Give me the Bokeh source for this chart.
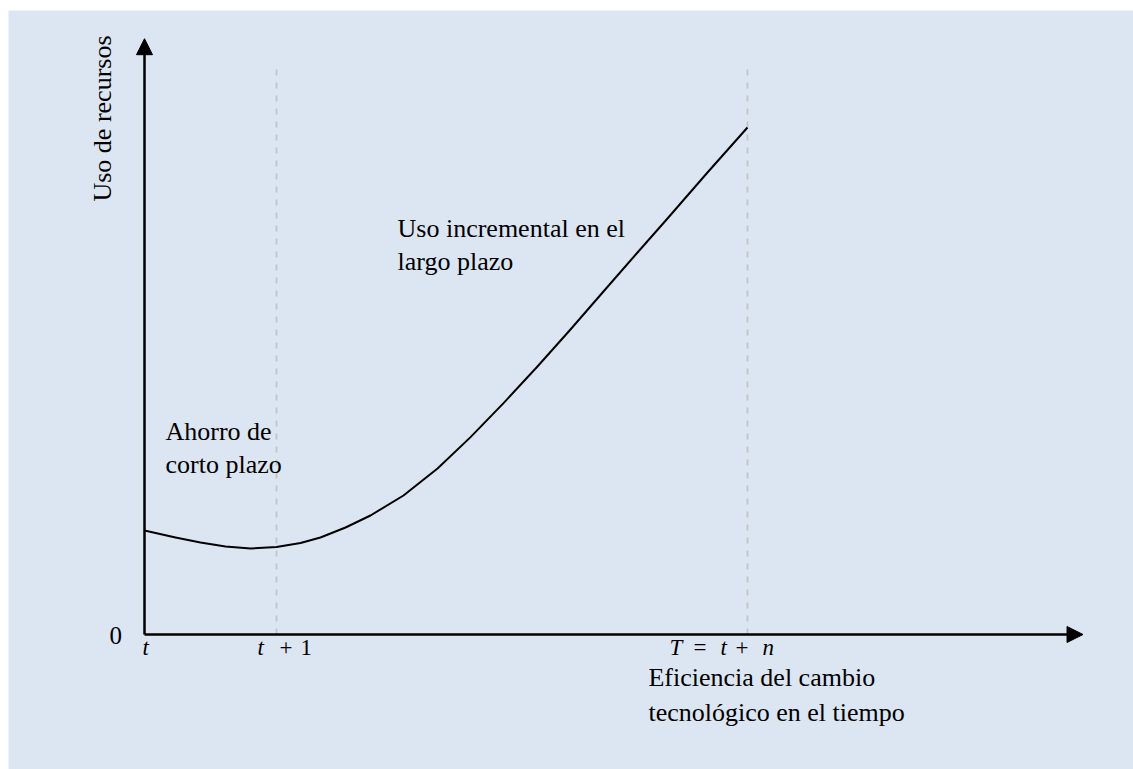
import math
from bokeh.plotting import figure
from bokeh.models import Arrow, NormalHead, Label, Range1d
from bokeh.embed import file_html
from bokeh.resources import INLINE

# ---- data (time units: t = 0, t+1 = 1, T = t+n ~ 4.57; resource use in arbitrary units)
curve_x = [0.0, 0.235, 0.424, 0.614, 0.803, 1.0, 1.182, 1.333, 1.523, 1.712, 1.962,
           2.220, 2.470, 2.720, 2.977, 3.227, 3.477, 3.735, 3.962, 4.265, 4.568]
curve_y = [17.33, 16.17, 15.33, 14.67, 14.33, 14.58, 15.25, 16.17, 17.83, 19.83, 23.17,
           27.67, 32.9, 38.57, 44.67, 50.83, 57.17, 63.67, 69.33, 77.0, 84.5]

tick_positions = [0.0, 1.0, 4.568]
tick_labels = ["t", "t + 1", "T = t + n"]
# pixel offsets of each token of a tick label, relative to its tick
tick_token_offsets = [[-2], [-19, 3, 24], [-78, -54, -27, -12, 15]]
guide_top = 94.5
y_axis_top = 99.3
x_axis_end = 7.11

title_text = "recursos"
y_axis_label = "Uso de recursos"
x_axis_label = ["Eficiencia del cambio", "tecnológico en el tiempo"]
note_short = ["Ahorro de", "corto plazo"]
note_long = ["Uso incremental en el", "largo plazo"]

BG = "#dce6f2"
FONT = "Liberation Serif"
DY = 1.5  # baseline correction for labels

p = figure(width=1133, height=769, output_backend="svg", toolbar_location=None,
           title=None,
           x_range=Range1d(-1.0303, 7.4924), y_range=Range1d(-22.5, 104.0),
           min_border_left=8, min_border_right=0, min_border_bottom=0, min_border_top=10)
p.background_fill_color = BG
p.border_fill_color = "white"
p.outline_line_color = None
p.xaxis.visible = False
p.yaxis.visible = False
p.xgrid.visible = False
p.ygrid.visible = False

# dashed guides at t+1 and T
for xv in tick_positions[1:]:
    p.segment(x0=[xv], y0=[0], x1=[xv], y1=[guide_top], line_color="#c3c3c3",
              line_width=1.8, line_dash="6 7")

# the curve
p.line(curve_x, curve_y, line_color="black", line_width=2, line_join="round")

# axes with arrow heads
p.add_layout(Arrow(end=NormalHead(size=16, fill_color="black", line_color="black"),
                   x_start=0, y_start=0, x_end=0, y_end=y_axis_top,
                   line_color="black", line_width=2.5))
p.add_layout(Arrow(end=NormalHead(size=16, fill_color="black", line_color="black"),
                   x_start=0, y_start=0, x_end=x_axis_end, y_end=0,
                   line_color="black", line_width=2.5))

def lab(x, y, text, size="26px", style="normal", align="left", baseline="alphabetic",
        angle=0.0, x_offset=0):
    p.add_layout(Label(x=x, y=y, text=text, text_font=FONT, text_font_size=size,
                       text_font_style=style, text_align=align, text_baseline=baseline,
                       text_color="black", angle=angle, x_offset=x_offset))

# title (shrunk to fit the narrow white strip above the panel)
lab(3.258, 105.6, title_text, size="10px", align="center", baseline="top")

# origin and tick labels (letters italic, operators/digits upright)
lab(-0.265, -1.67 + DY, "0", size="25px")
for tx, tl, offs in zip(tick_positions, tick_labels, tick_token_offsets):
    for tok, off in zip(tl.split(" "), offs):
        st = "italic" if tok.isalpha() else "normal"
        lab(tx, -3.6 + DY, tok, size="23px", style=st, x_offset=off)

# axis titles
lab(-0.318, 86.0, y_axis_label, align="center", baseline="middle", angle=math.pi / 2)
lab(3.818, -8.67 + DY, x_axis_label[0])
lab(3.818, -14.5 + DY, x_axis_label[1])

# annotations
lab(0.159, 32.3 + DY, note_short[0])
lab(0.159, 26.8 + DY, note_short[1])
lab(1.917, 66.2 + DY, note_long[0])
lab(1.917, 60.7 + DY, note_long[1])

open("out.html", "w").write(file_html(p, INLINE))
